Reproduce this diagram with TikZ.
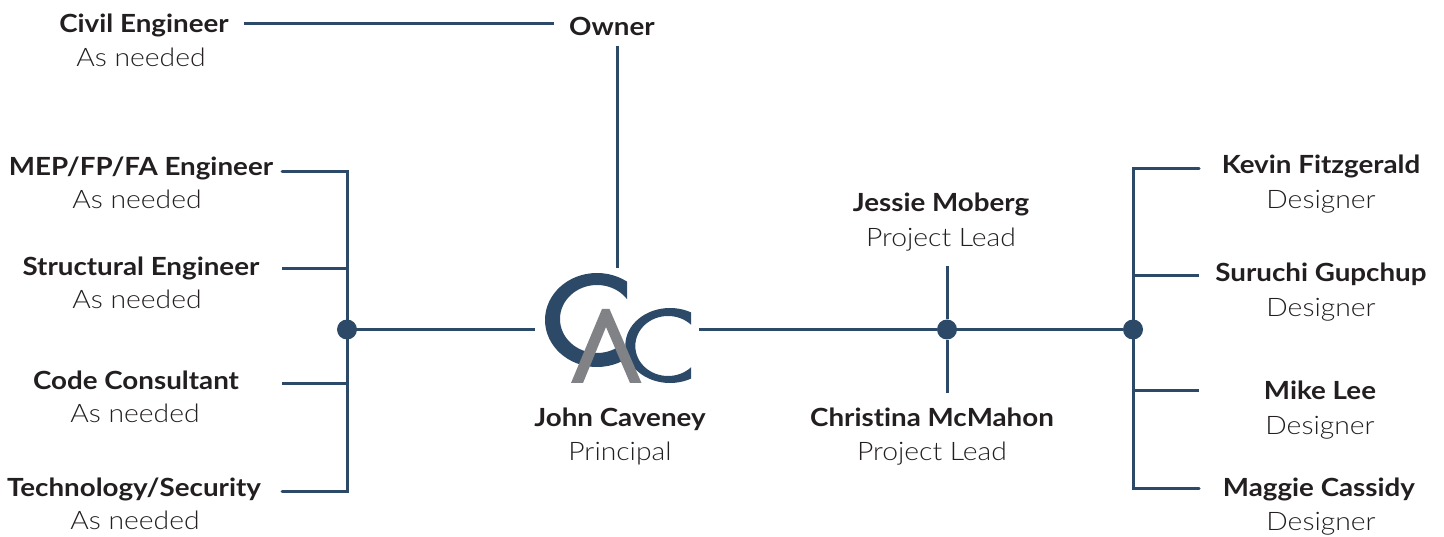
\documentclass[tikz,border=0pt]{standalone}
\usepackage{fontspec}
\setmainfont{Lato}[FakeStretch=1.11,Ligatures=NoCommon]
\newfontfamily\rolefont{Lato Light}[FakeStretch=1.11,Ligatures=NoCommon]
\definecolor{linkblue}{HTML}{2C4A68}
\definecolor{logogray}{HTML}{808285}
\definecolor{inkblack}{HTML}{231F20}
\tikzset{
    namebox/.style={font=\fontsize{25}{25}\selectfont\bfseries, text=inkblack, inner xsep=15pt, inner ysep=7pt, text height=20pt, text depth=3pt},
    rolebox/.style={font=\fontsize{25.5}{25.5}\rolefont, text=inkblack, inner xsep=4pt, inner ysep=4pt, text height=20pt, text depth=3pt},
    link/.style={draw=linkblue, line width=3pt},
    hub/.style={circle, fill=linkblue, minimum size=20pt, inner sep=0pt},
}
\begin{document}
\begin{tikzpicture}[x=1pt,y=-1pt]
    \useasboundingbox (0,0) rectangle (1444,537);

    % people on the left
    \node[namebox] (civil) at (144,24) {Civil Engineer};
    \node[rolebox] (civilrole) at (141,58) {As needed};
    \node[namebox] (mep) at (141,167) {MEP/FP/FA Engineer};
    \node[rolebox] (meprole) at (137,200) {As needed};
    \node[namebox] (structural) at (141,267) {Structural Engineer};
    \node[rolebox] (structuralrole) at (137,300) {As needed};
    \node[namebox] (code) at (136,381) {Code Consultant};
    \node[rolebox] (coderole) at (135,414) {As needed};
    \node[namebox] (tech) at (134,488) {Technology/Security};
    \node[rolebox] (techrole) at (135,521) {As needed};

    % middle
    \node[namebox] (owner) at (612,27) {Owner};
    \node[minimum width=164pt, minimum height=122pt, inner sep=0pt] (logo) at (617,329.5) {};
    \node[namebox] (john) at (620,418.5) {John Caveney};
    \node[rolebox] (johnrole) at (620,452) {Principal};
    \node[namebox] (jessie) at (941,203.5) {Jessie Moberg};
    \node[rolebox] (jessierole) at (941,238) {Project Lead};
    \node[namebox] (christina) at (932,417.5) {Christina McMahon};
    \node[rolebox] (christinarole) at (932,452) {Project Lead};

    % people on the right
    \node[namebox] (kevin) at (1321,165) {Kevin Fitzgerald};
    \node[rolebox] (kevinrole) at (1321,200) {Designer};
    \node[namebox] (suruchi) at (1321,273) {Suruchi Gupchup};
    \node[rolebox] (suruchirole) at (1321,308) {Designer};
    \node[namebox] (mike) at (1320,391) {Mike Lee};
    \node[rolebox] (mikerole) at (1320,426) {Designer};
    \node[namebox] (maggie) at (1319,488) {Maggie Cassidy};
    \node[rolebox] (maggierole) at (1321,522) {Designer};

    % junctions
    \node[hub] (hubleft) at (347,329.5) {};
    \node[hub] (hubmid) at (947,329.5) {};
    \node[hub] (hubright) at (1133,329.5) {};

    \coordinate (mepstub) at (282,171.5);
    \coordinate (structuralstub) at (282,268.5);
    \coordinate (codestub) at (282,383.5);
    \coordinate (techstub) at (282,491.5);
    \coordinate (jessiestub) at (947,266);
    \coordinate (christinastub) at (947,393);
    \coordinate (kevinstub) at (1199,168.5);
    \coordinate (suruchistub) at (1199,275.5);
    \coordinate (mikestub) at (1199,390.5);
    \coordinate (maggiestub) at (1199,488.5);

    % links
    \draw[link] (civil.east) -- (civil.east -| owner.west);
    \draw[link] (owner.south -| logo.north) -- (logo.north);
    \draw[link] (hubleft) -- (logo.west);
    \draw[link] (logo.east) -- (hubmid);
    \draw[link] (hubmid) -- (hubright);
    \draw[link] (jessiestub) -- (hubmid);
    \draw[link] (hubmid) -- (christinastub);

    \draw[link, line cap=round] (mepstub) -- (mepstub -| hubleft) -- (techstub -| hubleft) -- (techstub);
    \draw[link] (structuralstub) -- (structuralstub -| hubleft);
    \draw[link] (codestub) -- (codestub -| hubleft);

    \draw[link, line cap=round] (kevinstub) -- (kevinstub -| hubright) -- (maggiestub -| hubright) -- (maggiestub);
    \draw[link] (suruchistub) -- (suruchistub -| hubright);
    \draw[link] (mikestub) -- (mikestub -| hubright);

    % logo, big C
    \begin{scope}
        \clip (540,265) -- (627,265) -- (627,320) -- (622,320) -- (622,372) -- (540,372) -- cycle;
        \fill[linkblue, even odd rule] (597,320) ellipse [x radius=52, y radius=47]
            (597,319) ellipse [x radius=37, y radius=34];
    \end{scope}
    % logo, small C
    \begin{scope}
        \clip (620,300) rectangle (691,390);
        \fill[linkblue, even odd rule] (670,345.5) ellipse [x radius=44.7, y radius=37.5]
            (668,346) ellipse [x radius=32.7, y radius=30];
    \end{scope}
    % logo, A
    \fill[logogray] (602,309) -- (609.5,309) -- (641.5,383) -- (630,383) -- (606,327) -- (583,383) -- (571,383) -- cycle;

\end{tikzpicture}
\end{document}
